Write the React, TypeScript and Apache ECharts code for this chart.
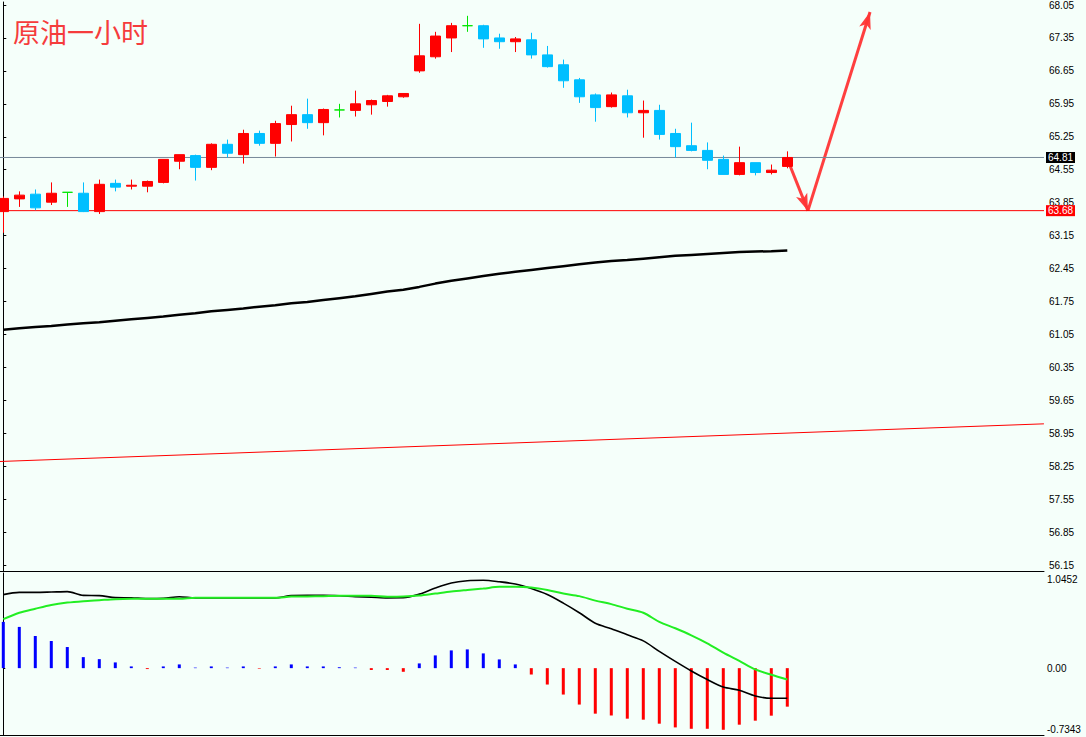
import React, { useEffect, useRef } from 'react';
import * as echarts from 'echarts';

// ---- Data ----
const chartTitle = '原油一小时';

const opens = [63.66, 63.93, 64.03, 63.86, 64.07, 64.05, 63.66, 64.26, 64.20, 64.20,
  64.28, 64.73, 64.85, 64.60, 65.09, 64.87, 65.32, 65.11, 65.51, 65.72,
  65.55, 65.82, 65.81, 65.93, 66.00, 66.10, 66.65, 66.95, 67.35, 67.61,
  67.61, 67.35, 67.27, 67.31, 66.99, 66.78, 66.46, 66.14, 65.89, 66.12,
  65.76, 65.81, 65.32, 65.06, 64.96, 64.77, 64.45, 64.70, 64.49, 64.62];
const closes = [63.94, 64.01, 63.74, 64.05, 64.07, 63.66, 64.24, 64.18, 64.22, 64.30,
  64.77, 64.87, 64.60, 65.09, 64.90, 65.32, 65.11, 65.53, 65.72, 65.55,
  65.83, 65.82, 65.95, 66.02, 66.12, 66.17, 66.97, 67.39, 67.61, 67.61,
  67.33, 67.27, 67.33, 66.99, 66.74, 66.44, 66.10, 65.87, 66.14, 65.76,
  65.81, 65.30, 65.04, 64.96, 64.75, 64.45, 64.70, 64.49, 64.54, 64.81];
const lows = [63.21, 63.76, 63.69, 63.80, 63.76, 63.65, 63.61, 64.09, 64.13, 64.07,
  64.26, 64.56, 64.32, 64.54, 64.81, 64.68, 65.06, 64.83, 65.15, 65.42,
  65.28, 65.66, 65.68, 65.72, 65.89, 66.08, 66.61, 66.91, 67.05, 67.48,
  67.14, 67.12, 67.05, 66.91, 66.72, 66.29, 65.97, 65.57, 65.87, 65.66,
  65.23, 65.19, 64.81, 64.94, 64.56, 64.45, 64.43, 64.43, 64.45, 64.58];
const highs = [63.98, 64.09, 64.13, 64.28, 64.07, 64.28, 64.34, 64.34, 64.34, 64.32,
  64.77, 64.87, 64.87, 65.11, 65.19, 65.40, 65.38, 65.59, 65.91, 66.06,
  65.85, 65.95, 66.23, 66.04, 66.14, 66.17, 67.65, 67.48, 67.67, 67.82,
  67.63, 67.44, 67.37, 67.46, 67.18, 66.89, 66.50, 66.17, 66.19, 66.25,
  66.02, 65.93, 65.42, 65.55, 65.13, 64.85, 65.04, 64.70, 64.66, 64.94];

const maValues = [61.15, 61.18, 61.21, 61.23, 61.26, 61.29, 61.31, 61.34, 61.37, 61.40,
  61.43, 61.47, 61.50, 61.54, 61.57, 61.60, 61.64, 61.67, 61.71, 61.74,
  61.78, 61.82, 61.86, 61.91, 61.96, 62.00, 62.06, 62.13, 62.19, 62.24,
  62.29, 62.34, 62.38, 62.42, 62.46, 62.50, 62.54, 62.58, 62.61, 62.63,
  62.66, 62.69, 62.72, 62.74, 62.76, 62.78, 62.80, 62.81, 62.82, 62.835];

const macdMain = [0.808, 0.832, 0.832, 0.836, 0.841, 0.799, 0.797, 0.775, 0.773, 0.764,
  0.766, 0.784, 0.772, 0.772, 0.772, 0.772, 0.772, 0.772, 0.797, 0.799,
  0.799, 0.795, 0.786, 0.780, 0.772, 0.773, 0.813, 0.880, 0.935, 0.960,
  0.965, 0.949, 0.924, 0.874, 0.808, 0.714, 0.609, 0.493, 0.433, 0.366,
  0.300, 0.184, 0.074, -0.031, -0.125, -0.208, -0.243, -0.305, -0.331, -0.331];
const macdSignal = [0.538, 0.609, 0.653, 0.694, 0.720, 0.736, 0.747, 0.758, 0.762, 0.762,
  0.762, 0.762, 0.773, 0.773, 0.773, 0.773, 0.773, 0.773, 0.786, 0.788,
  0.791, 0.795, 0.795, 0.795, 0.784, 0.786, 0.797, 0.819, 0.841, 0.858,
  0.874, 0.893, 0.894, 0.885, 0.858, 0.819, 0.791, 0.742, 0.703, 0.653,
  0.609, 0.508, 0.438, 0.361, 0.273, 0.170, 0.079, -0.014, -0.073, -0.125];
const macdHist = [0.508, 0.453, 0.353, 0.298, 0.232, 0.121, 0.099, 0.063, 0.019, -0.01,
  0.019, 0.041, 0.006, 0.019, 0.006, 0.019, -0.006, 0.019, 0.041, 0.019,
  0.019, 0.01, 0.006, -0.02, -0.02, -0.04, 0.052, 0.14, 0.195, 0.206,
  0.162, 0.096, 0.041, -0.07, -0.18, -0.29, -0.40, -0.50, -0.52, -0.555,
  -0.566, -0.61, -0.651, -0.666, -0.666, -0.677, -0.621, -0.577, -0.522, -0.423];

const priceTicks = [56.15, 56.85, 57.55, 58.25, 58.95, 59.65, 60.35, 61.05, 61.75,
  62.45, 63.15, 63.85, 64.55, 65.25, 65.95, 66.65, 67.35, 68.05];
const macdTicks = [-0.7343, 0, 1.0452];

const bidPrice = 64.81;
const levelPrice = 63.68;
const trendX = [-0.21, 65.04];
const trendY = [58.35, 59.15];
const arrowX = [49.06, 50.29, 54.17];
const arrowY = [64.73, 63.68, 67.9];

// ---- Styling constants ----
const UP = '#ff0000';
const DOWN = '#00bfff';
const DOJI = '#00e600';
const BG = '#f5fffa';
const X_MIN = -0.206;
const X_MAX = 65.044;
const AXIS_FONT = 'Liberation Sans';

function hLine(name: string, price: number, color: string, tagBg: string) {
  return {
    type: 'line', name, xAxisIndex: 0, yAxisIndex: 0,
    data: [[X_MIN, price], [X_MAX, price]],
    showSymbol: false, symbol: 'none',
    lineStyle: { color, width: 1 },
    itemStyle: { color },
    silent: true, z: 5,
    endLabel: {
      show: true, distance: 2,
      formatter: () => price.toFixed(2),
      color: '#fff', backgroundColor: tagBg, padding: [1, 2, 0, 2],
      fontSize: 10, fontFamily: AXIS_FONT,
    },
  };
}

export default function App() {
  const ref = useRef<HTMLDivElement>(null);

  useEffect(() => {
    if (!ref.current) return;
    const chart = echarts.init(ref.current, undefined, { renderer: 'svg' });

    const candleData = opens.map((o, i) => {
      const item: any = { value: [i, o, closes[i], lows[i], highs[i]] };
      if (o === closes[i]) {
        item.itemStyle = { color: DOJI, color0: DOJI, borderColor: DOJI, borderColor0: DOJI };
      }
      return item;
    });

    const histData = macdHist.map((v, i) => ({
      value: [i, v],
      itemStyle: { color: v >= 0 ? '#0000ff' : '#ff0000' },
    }));

    const option: any = {
      animation: false,
      backgroundColor: BG,
      title: {
        text: chartTitle,
        left: 8,
        top: 13,
        textStyle: { color: '#f53c3c', fontSize: 27, fontWeight: 'normal', fontFamily: 'Noto Sans CJK SC' },
      },
      grid: [
        { left: 0, right: 42, top: 0, height: 571 },
        { left: 0, right: 42, top: 573, height: 162 },
      ],
      xAxis: [
        {
          type: 'value', gridIndex: 0, min: X_MIN, max: X_MAX,
          axisLine: { show: true, onZero: false, lineStyle: { color: '#000', width: 1 } },
          axisTick: { show: false }, axisLabel: { show: false }, splitLine: { show: false },
        },
        {
          type: 'value', gridIndex: 1, min: X_MIN, max: X_MAX,
          axisLine: { show: true, onZero: false, lineStyle: { color: '#000', width: 1 } },
          axisTick: { show: false }, axisLabel: { show: false }, splitLine: { show: false },
        },
      ],
      yAxis: [
        {
          type: 'value', gridIndex: 0, position: 'right', min: 56.023, max: 68.114,
          axisLine: { show: true, lineStyle: { color: '#000', width: 1 } },
          axisTick: { show: true, length: 3, inside: false, customValues: priceTicks, lineStyle: { color: '#000' } },
          axisLabel: {
            show: true, customValues: priceTicks, margin: 5, color: '#000',
            fontSize: 10, fontFamily: AXIS_FONT,
            formatter: (v: number) => v.toFixed(2),
          },
          splitLine: { show: false },
        },
        {
          type: 'value', gridIndex: 1, position: 'right', min: -0.7343, max: 1.0452,
          axisLine: { show: true, lineStyle: { color: '#000', width: 1 } },
          axisTick: { show: true, length: 2, customValues: [0], lineStyle: { color: '#000' } },
          axisLabel: {
            show: true, customValues: macdTicks, margin: 3, color: '#000',
            fontSize: 10, fontFamily: AXIS_FONT,
            formatter: (v: number) => {
              if (Math.abs(v) < 1e-9) return '0.00';
              if (v > 0) return '{t|' + v.toFixed(4) + '}';
              return '{b|' + v.toFixed(4) + '}';
            },
            rich: {
              t: { padding: [12, 0, 0, 0], fontSize: 10, fontFamily: AXIS_FONT, color: '#000' },
              b: { padding: [0, 0, 12, 0], fontSize: 10, fontFamily: AXIS_FONT, color: '#000' },
            },
          },
          splitLine: { show: false },
        },
      ],
      series: [
        {
          type: 'line', name: 'trend', xAxisIndex: 0, yAxisIndex: 0,
          data: trendX.map((x, i) => [x, trendY[i]]),
          showSymbol: false, symbol: 'none',
          lineStyle: { color: '#ff0000', width: 1 },
          silent: true, z: 1,
        },
        hLine('bid', bidPrice, '#778899', '#000000'),
        hLine('level', levelPrice, '#ff0000', '#ff0000'),
        {
          type: 'line', name: 'MA', xAxisIndex: 0, yAxisIndex: 0,
          data: maValues.map((v, i) => [i, v]),
          showSymbol: false, symbol: 'none',
          lineStyle: { color: '#000', width: 2.5 },
          silent: true, z: 2,
          markLine: {
            silent: true,
            symbol: ['none', 'arrow'],
            symbolSize: [9, 17],
            label: { show: false },
            lineStyle: { color: '#ff3535', width: 3, type: 'solid', opacity: 0.95 },
            data: [
              [{ coord: [arrowX[0], arrowY[0]] }, { coord: [arrowX[1], arrowY[1]] }],
              [{ coord: [arrowX[1], arrowY[1]] }, { coord: [arrowX[2], arrowY[2]] }],
            ],
          },
        },
        {
          type: 'candlestick', name: 'price', xAxisIndex: 0, yAxisIndex: 0,
          barWidth: 10,
          data: candleData,
          itemStyle: {
            color: UP, color0: DOWN, borderColor: UP, borderColor0: DOWN, borderWidth: 1,
            borderColorDoji: DOJI,
          },
          silent: true, z: 6,
        },
        {
          type: 'bar', name: 'hist', xAxisIndex: 1, yAxisIndex: 1,
          data: histData, barWidth: 3, silent: true,
        },
        {
          type: 'line', name: 'MACD', xAxisIndex: 1, yAxisIndex: 1,
          data: macdMain.map((v, i) => [i, v]),
          showSymbol: false, symbol: 'none', smooth: 0.3,
          lineStyle: { color: '#000', width: 1.6 }, silent: true, z: 3,
        },
        {
          type: 'line', name: 'Signal', xAxisIndex: 1, yAxisIndex: 1,
          data: macdSignal.map((v, i) => [i, v]),
          showSymbol: false, symbol: 'none', smooth: 0.3,
          lineStyle: { color: '#22ee22', width: 2 }, silent: true, z: 4,
        },
      ],
    };

    chart.setOption(option);
    return () => chart.dispose();
  }, []);

  return (
    <div
      ref={ref}
      style={{ position: 'fixed', left: 0, top: 0, width: 1086, height: 737 }}
    />
  );
}
